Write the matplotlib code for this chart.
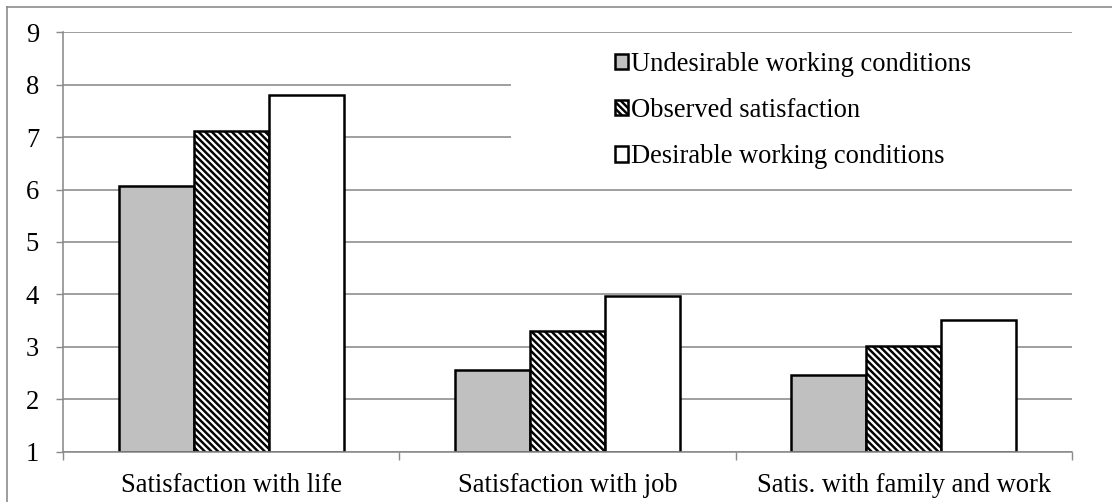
import matplotlib
matplotlib.use("Agg")
import matplotlib.pyplot as plt
from matplotlib.patches import Rectangle
from matplotlib.lines import Line2D
import numpy as np

categories = ["Satisfaction with life", "Satisfaction with job", "Satis. with family and work"]
series_names = ["Undesirable working conditions", "Observed satisfaction", "Desirable working conditions"]
undesirable = [6.06, 2.55, 2.46]
observed = [7.12, 3.30, 3.02]
desirable = [7.81, 3.96, 3.52]
y_ticks = [1, 2, 3, 4, 5, 6, 7, 8, 9]

DPI = 80
W, H = 1112, 502
plt.rcParams['font.family'] = ['Liberation Serif', 'DejaVu Serif']
plt.rcParams['hatch.linewidth'] = 2.2
plt.rcParams['hatch.color'] = 'black'

fs = 26.5 / DPI * 72  # font size in points
px = 72 / DPI          # one pixel in points

BS = chr(92)

fig = plt.figure(figsize=(W / DPI, H / DPI), dpi=DPI)
ax = fig.add_axes([63 / W, 1 - 451.5 / H, (1072 - 63) / W, (451.5 - 32.5) / H])

grid_col = '#8a8a8a'
x = np.arange(len(categories))
bw = 75 / 336.3
styles = [
    dict(facecolor='#c0c0c0', hatch=None),
    dict(facecolor='white', hatch=BS * 4),
    dict(facecolor='white', hatch=None),
]
data = [undesirable, observed, desirable]
handles = []
for i, (vals, st) in enumerate(zip(data, styles)):
    bars = ax.bar(x + (i - 1) * bw, np.array(vals) - 1, bottom=1, width=bw,
                  facecolor=st['facecolor'], hatch=st['hatch'], edgecolor='black',
                  linewidth=2.5 * px, zorder=2, label=series_names[i])
    handles.append(bars)

ax.set_xlim(-0.5, 2.5)
ax.set_ylim(1, 9)
ax.set_yticks(y_ticks)
ax.set_yticklabels([str(t) for t in y_ticks], fontsize=fs, color='black')
ax.set_xticks(x)
ax.set_xticklabels(categories, fontsize=fs, color='black')
ax.set_xticks([-0.5, 0.5, 1.5, 2.5], minor=True)
ax.tick_params(axis='x', which='major', length=0, pad=21 * px)
ax.tick_params(axis='x', which='minor', length=8 * px, width=1.4 * px, color=grid_col)
ax.tick_params(axis='y', which='major', length=7 * px, width=1.4 * px, color=grid_col, pad=17 * px)

ax.set_axisbelow(True)
ax.yaxis.grid(True, color=grid_col, linewidth=1.6 * px, zorder=0.5)
for s in ['top', 'right']:
    ax.spines[s].set_visible(False)
for s in ['left', 'bottom']:
    ax.spines[s].set_color(grid_col)
    ax.spines[s].set_linewidth(1.6 * px)

# white legend background hiding gridlines
bg = Rectangle(((511 - 63) / 1009, 6.35), 1 - (511 - 63) / 1009, 2.45,
               transform=ax.get_yaxis_transform(), facecolor='white',
               edgecolor='none', zorder=1)
ax.add_patch(bg)

leg = ax.legend(handles=handles, labels=series_names, loc='upper left',
                bbox_to_anchor=((615 - 63) / 1009, (451.5 - 52) / 419),
                frameon=False, fontsize=fs, handlelength=0.5, handleheight=0.5,
                handletextpad=0.12, labelspacing=0.8, borderpad=0, borderaxespad=0)
leg.set_zorder(5)

# outer frame (top and left edges visible)
fig.add_artist(Line2D([7 / W, 1], [1 - 7 / H, 1 - 7 / H], transform=fig.transFigure,
                      color='#888888', linewidth=1.6 * px))
fig.add_artist(Line2D([7 / W, 7 / W], [0, 1 - 7 / H], transform=fig.transFigure,
                      color='#888888', linewidth=1.6 * px))

fig.savefig('out.png', dpi=DPI)
